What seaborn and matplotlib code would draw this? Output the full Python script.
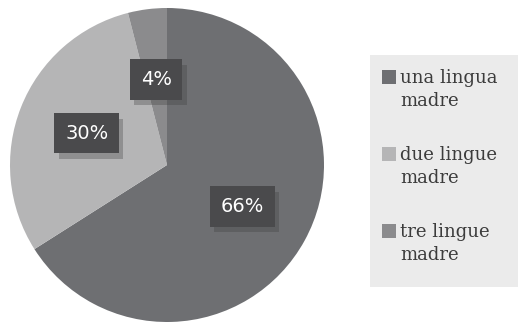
import matplotlib
matplotlib.use("Agg")
import matplotlib.pyplot as plt
from matplotlib.patches import Rectangle
import matplotlib.patheffects as pe
import seaborn as sns

# Share of respondents by number of mother tongues
categories = ["una lingua madre", "due lingue madre", "tre lingue madre"]
shares = [66, 30, 4]
slice_colors = ["#6e6f72", "#b5b5b6", "#8b8b8d"]

sns.set_theme(style="white")
plt.rcParams["font.family"] = ["DejaVu Sans"]

W, H = 519, 322
fig = plt.figure(figsize=(W / 100, H / 100), dpi=100)
fig.patch.set_facecolor("white")

# pie centred at (167, 165) px with a 157 px radius
cx, cy, r = 167, 165, 157
ax = fig.add_axes([(cx - r) / W, (H - cy - r) / H, 2 * r / W, 2 * r / H])
wedges, _, autotexts = ax.pie(
    shares,
    colors=slice_colors,
    startangle=90,
    counterclock=False,
    autopct=lambda p: f"{p:.0f}%",
    pctdistance=0.55,
    wedgeprops=dict(linewidth=0),
    textprops=dict(color="white", fontsize=14),
)
for t in autotexts:
    t.set_bbox(dict(boxstyle="square,pad=0.55", facecolor="#4a4a4c", edgecolor="none"))
    t.get_bbox_patch().set_path_effects(
        [pe.SimplePatchShadow(offset=(3, -4), shadow_rgbFace="#3a3a3a", alpha=0.3),
         pe.Normal()])
ax.set_xlim(-1, 1)
ax.set_ylim(-1, 1)
ax.set_aspect("equal")
ax.axis("off")

# legend panel on the right
lx0, ly0, lx1, ly1 = 370, 55, 518, 287
fig.patches.append(Rectangle((lx0 / W, 1 - ly1 / H), (lx1 - lx0) / W, (ly1 - ly0) / H,
                             transform=fig.transFigure, facecolor="#ebebeb",
                             edgecolor="none", zorder=0))
for i, (lab, col) in enumerate(zip(categories, slice_colors)):
    top = 70 + i * 77
    fig.patches.append(Rectangle((382 / W, 1 - (top + 14) / H), 14 / W, 14 / H,
                                 transform=fig.transFigure, facecolor=col,
                                 edgecolor="none", zorder=1))
    words = lab.split(" ")
    text = " ".join(words[:2]) + "\n" + words[2]
    fig.text(400 / W, 1 - (top - 1) / H, text, ha="left", va="top",
             fontsize=13, color="#3c3c3c", linespacing=1.35,
             family=["DejaVu Serif"])

fig.savefig("out.png", dpi=100, facecolor="white")
